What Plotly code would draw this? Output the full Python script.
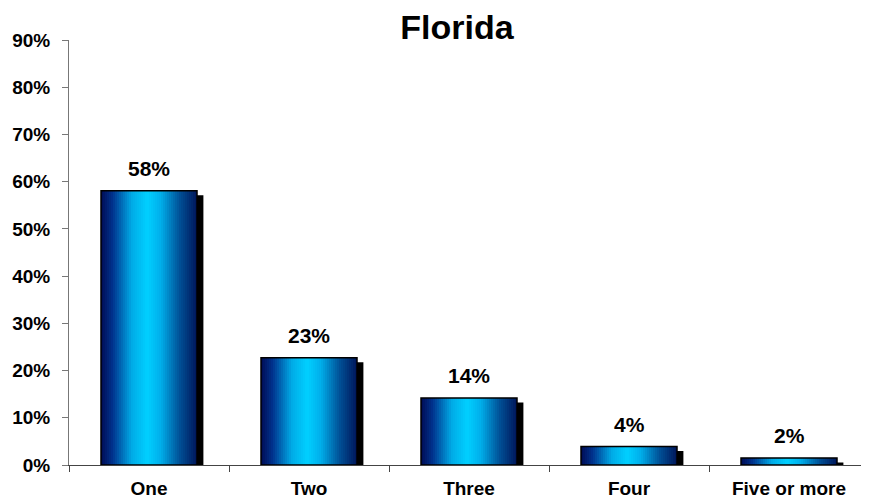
import plotly.graph_objects as go

categories = ["One", "Two", "Three", "Four", "Five or more"]
values = [58.1, 22.7, 14.2, 3.9, 1.5]
labels = ["58%", "23%", "14%", "4%", "2%"]
y_ticks = [0, 10, 20, 30, 40, 50, 60, 70, 80, 90]

FONT = "Liberation Sans, Arial, sans-serif"
bar_w = 0.6
n_slices = 48


def grad_color(t):
    # navy at the edges, cyan a bit left of centre
    stops = [(0.0, (0, 12, 85)), (0.12, (0, 50, 140)), (0.32, (0, 170, 230)),
             (0.48, (0, 208, 255)), (0.62, (0, 175, 235)), (0.82, (0, 80, 150)),
             (1.0, (0, 22, 90))]
    for (t0, c0), (t1, c1) in zip(stops[:-1], stops[1:]):
        if t0 <= t <= t1:
            f = (t - t0) / (t1 - t0)
            r, g, b = [round(a + (bb - a) * f) for a, bb in zip(c0, c1)]
            return f"rgb({r},{g},{b})"
    return "rgb(0,22,90)"


fig = go.Figure()

# shadow
fig.add_trace(go.Bar(
    x=categories, y=[max(v - 0.95, 0.3) for v in values],
    width=bar_w, offset=-bar_w / 2 + 0.04,
    marker=dict(color="black", line=dict(width=0)),
    hoverinfo="skip", showlegend=False,
))

# gradient slices
sw = bar_w / n_slices
for i in range(n_slices):
    fig.add_trace(go.Bar(
        x=categories, y=values,
        width=sw * 1.02, offset=-bar_w / 2 + i * sw,
        marker=dict(color=grad_color((i + 0.5) / n_slices), line=dict(width=0)),
        hoverinfo="skip", showlegend=False,
    ))

# outline
fig.add_trace(go.Bar(
    x=categories, y=values,
    width=bar_w, offset=-bar_w / 2,
    marker=dict(color="rgba(0,0,0,0)", line=dict(color="black", width=1.5)),
    showlegend=False,
))

for c, v, lab in zip(categories, values, labels):
    fig.add_annotation(x=c, y=v, text=lab, showarrow=False, yanchor="bottom",
                       yshift=9, font=dict(family=FONT, size=21, color="black", weight="bold"))

# page body adds ~8px margin, so the figure is a bit smaller than the window
fig.update_layout(
    width=861, height=494,
    margin=dict(l=61, r=0, t=32, b=37),
    paper_bgcolor="white", plot_bgcolor="white",
    barmode="overlay", bargap=0.4,
    title=dict(text="<b>Florida</b>", x=0.5215, xanchor="center", y=0.962, yanchor="middle",
               font=dict(family=FONT, size=34, color="black")),
    font=dict(family=FONT, color="black"),
)
fig.update_xaxes(
    showline=True, linecolor="#444444", linewidth=1,
    ticks="outside", tickson="boundaries", ticklen=6, tickcolor="#444444",
    ticklabelstandoff=6,
    tickfont=dict(family=FONT, size=19, weight="bold"),
    showgrid=False, range=[-0.5, 4.5],
)
fig.update_yaxes(
    range=[0, 90], tickvals=y_ticks, ticktext=[f"{t}%" for t in y_ticks],
    showline=True, linecolor="#777777", linewidth=1,
    ticks="outside", ticklen=6, tickcolor="#777777", ticklabelstandoff=8,
    tickfont=dict(family=FONT, size=19, weight="bold"),
    showgrid=False, zeroline=False,
)

fig.write_html("out.html")
